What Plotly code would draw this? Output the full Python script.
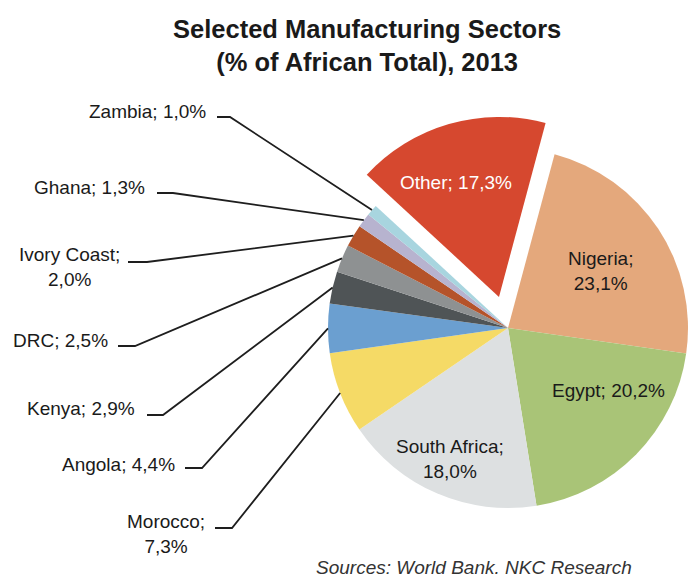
import math
import plotly.graph_objects as go

# Share of African manufacturing value added, 2013 (%)
countries = ["Nigeria", "Egypt", "South Africa", "Morocco", "Angola", "Kenya",
             "DRC", "Ivory Coast", "Ghana", "Zambia", "Other"]
shares = [23.1, 20.2, 18.0, 7.3, 4.4, 2.9, 2.5, 2.0, 1.3, 1.0, 17.3]
colors = ["#E4A87C", "#A9C477", "#DDE0E1", "#F5DA66", "#6B9FD0", "#4F5456",
          "#8E9192", "#B5532A", "#B7B3CF", "#A8D5DF", "#D6482F"]

W, H = 688, 581
cx, cy, R = 508, 328, 180          # pie centre / radius in pixels
start_deg = 15                     # first slice starts 15 deg clockwise of 12 o'clock
pull_frac = 0.18                   # explode distance for "Other"

FONT = "Liberation Sans, Arial, sans-serif"


def px_x(x):
    return x / W


def px_y(y):
    return 1 - y / H


total = sum(shares)
other_idx = countries.index("Other")

# angles (deg, clockwise from 12 o'clock) of each slice's mid-point
mid_angle = {}
acc = start_deg
for name, v in zip(countries, shares):
    span = 360 * v / total
    mid_angle[name] = acc + span / 2
    acc += span

fig = go.Figure()

# main pie; the exploded slice is left empty here and drawn separately
base_colors = [c if n != "Other" else "rgba(0,0,0,0)" for n, c in zip(countries, colors)]
fig.add_trace(go.Pie(
    labels=countries, values=shares, sort=False, direction="clockwise",
    rotation=start_deg, textinfo="none", hoverinfo="label+percent",
    marker=dict(colors=base_colors, line=dict(width=0)),
    domain=dict(x=[px_x(cx - R), min(1.0, px_x(cx + R))],
                y=[px_y(cy + R), px_y(cy - R)]),
    showlegend=False,
))

# exploded "Other" slice, offset along its bisector
other_val = shares[other_idx]
rest_val = total - other_val
other_start = start_deg + 360 * rest_val / total
bis = math.radians(mid_angle["Other"])
dx = pull_frac * R * math.sin(bis)
dy = -pull_frac * R * math.cos(bis)
fig.add_trace(go.Pie(
    labels=["Other", "rest"], values=[other_val, rest_val], sort=False,
    direction="clockwise", rotation=other_start, textinfo="none",
    hoverinfo="skip",
    marker=dict(colors=[colors[other_idx], "rgba(0,0,0,0)"], line=dict(width=0)),
    domain=dict(x=[px_x(cx - R + dx), min(1.0, px_x(cx + R + dx))],
                y=[px_y(cy + R + dy), px_y(cy - R + dy)]),
    showlegend=False,
))


def fmt(v):
    return f"{v:.1f}".replace(".", ",") + "%"


val = dict(zip(countries, shares))

annotations = []
shapes = []

# title
annotations.append(dict(
    text="<b>Selected Manufacturing Sectors</b><br><b>(% of African Total), 2013</b>",
    x=px_x(367), y=px_y(13), xanchor="center", yanchor="top",
    font=dict(family=FONT, size=25.5, color="#1a1a1a"), showarrow=False,
))

# labels inside the big slices: (name, x, y, two-line, colour)
inside = [
    ("Other", 456, 182, False, "#ffffff"),
    ("Nigeria", 600, 271, True, "#1a1a1a"),
    ("Egypt", 608, 390, False, "#1a1a1a"),
    ("South Africa", 450, 459, True, "#1a1a1a"),
]
for name, x, y, two, col in inside:
    sep = ";<br>" if two else "; "
    annotations.append(dict(
        text=f"{name}{sep}{fmt(val[name])}", x=px_x(x), y=px_y(y),
        xanchor="center", yanchor="middle", align="center",
        font=dict(family=FONT, size=19, color=col), showarrow=False,
    ))

# outside labels with elbow leader lines:
# (name, text right edge, text centre y, two-line, elbow x0, elbow x1, line y)
outside = [
    ("Zambia", 208, 112, False, 217, 230, 117),
    ("Ghana", 147, 187, False, 157, 173, 193),
    ("Ivory Coast", 122, 267, True, 128, 147, 262),
    ("DRC", 110, 340, False, 118, 135, 346),
    ("Kenya", 137, 409, False, 147, 163, 415),
    ("Angola", 177, 464, False, 185, 202, 468),
    ("Morocco", 207, 534, True, 215, 232, 528),
]
for name, xr, yc, two, ex0, ex1, ly in outside:
    sep = ";<br>" if two else "; "
    annotations.append(dict(
        text=f"{name}{sep}{fmt(val[name])}", x=px_x(xr), y=px_y(yc),
        xanchor="right", yanchor="middle", align="center",
        font=dict(family=FONT, size=19, color="#1a1a1a"), showarrow=False,
    ))
    a = math.radians(mid_angle[name])
    tx = cx + R * math.sin(a)
    ty = cy - R * math.cos(a)
    shapes.append(dict(
        type="path", xref="paper", yref="paper",
        path=(f"M {px_x(ex0)},{px_y(ly)} L {px_x(ex1)},{px_y(ly)} "
              f"L {px_x(tx)},{px_y(ty)}"),
        line=dict(color="#1e1e1e", width=1.8),
    ))

# source note
annotations.append(dict(
    text="<i>Sources: World Bank. NKC Research</i>", x=px_x(634), y=px_y(580),
    xanchor="right", yanchor="bottom",
    font=dict(family=FONT, size=19, color="#333333"), showarrow=False,
))

fig.update_layout(
    width=W, height=H,
    margin=dict(l=0, r=0, t=0, b=0),
    paper_bgcolor="white", plot_bgcolor="white",
    annotations=annotations, shapes=shapes,
    showlegend=False,
)

fig.write_html("out.html")
